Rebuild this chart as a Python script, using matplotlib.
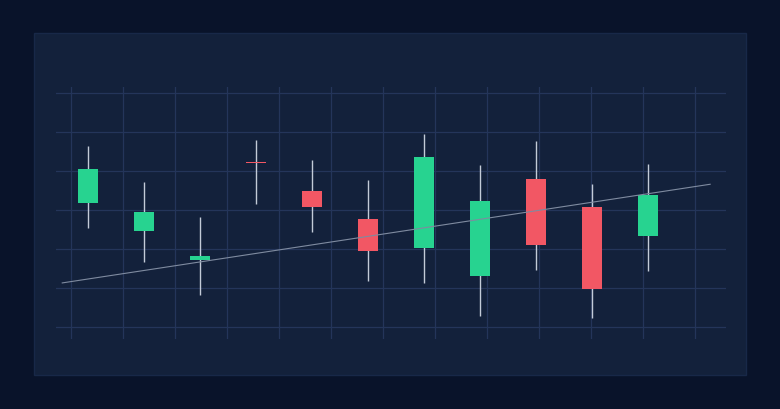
import numpy as np
import matplotlib
matplotlib.use("Agg")
import matplotlib.pyplot as plt
from matplotlib.patches import Rectangle

# candle data (arbitrary price units)
opens  = [131.7, 124.5, 117.3, 142.1, 134.9, 127.8, 120.3, 113.2, 137.9, 130.8, 123.4]
closes = [140.6, 129.4, 118.2, 142.0, 130.8, 119.5, 143.6, 132.4, 121.1, 109.8, 133.9]
highs  = [146.5, 137.3, 128.1, 147.9, 142.8, 137.7, 149.5, 141.5, 147.8, 136.6, 141.7]
lows   = [125.3, 116.7, 108.3, 131.5, 124.4, 111.8, 111.3, 102.8, 114.7, 102.2, 114.4]

# trend line end points
trend_x = [-0.46, 11.11]
trend_y = [111.3, 136.6]

outer_bg = "#09132a"
panel_bg = "#13213b"
up_col = "#27d390"
down_col = "#f25764"
wick_col = "#c3cbd8"
grid_col = "#24355a"

fig = plt.figure(figsize=(7.8, 4.1), dpi=100)
fig.patch.set_facecolor(outer_bg)
fig.patches.append(Rectangle((34/780, 34/410), 712/780, 342/410,
                             transform=fig.transFigure, facecolor=panel_bg,
                             edgecolor="#182848", lw=1.0, zorder=-10))

ax = fig.add_axes([56/780, 70/410, 670/780, 252/410])
ax.set_zorder(5)
ax.set_facecolor("none")

x = np.arange(len(opens))
o = np.array(opens)
c = np.array(closes)
up = c >= o
colors = np.where(up, up_col, down_col)
bottoms = np.minimum(o, c)
heights = np.maximum(np.abs(c - o), 0.35)

ax.vlines(x, lows, highs, color=wick_col, lw=1.0, zorder=2)
ax.bar(x, heights, bottom=bottoms, width=0.34, color=colors, lw=0, zorder=3)
ax.plot(trend_x, trend_y, color="#7f8ba0", lw=0.8, zorder=4)

ax.set_xlim(-0.5714, 11.393)
ax.set_ylim(96.92, 161.54)

# background grid
ax.set_xticks([(-17 + 52*k) / 56 for k in range(13)])
ax.set_yticks(np.arange(100, 161, 10))
ax.grid(True, color=grid_col, lw=0.9, zorder=0)
ax.set_axisbelow(True)
ax.tick_params(length=0, labelbottom=False, labelleft=False)
for s in ax.spines.values():
    s.set_visible(False)

fig.savefig("out.png", dpi=100, facecolor=outer_bg)
